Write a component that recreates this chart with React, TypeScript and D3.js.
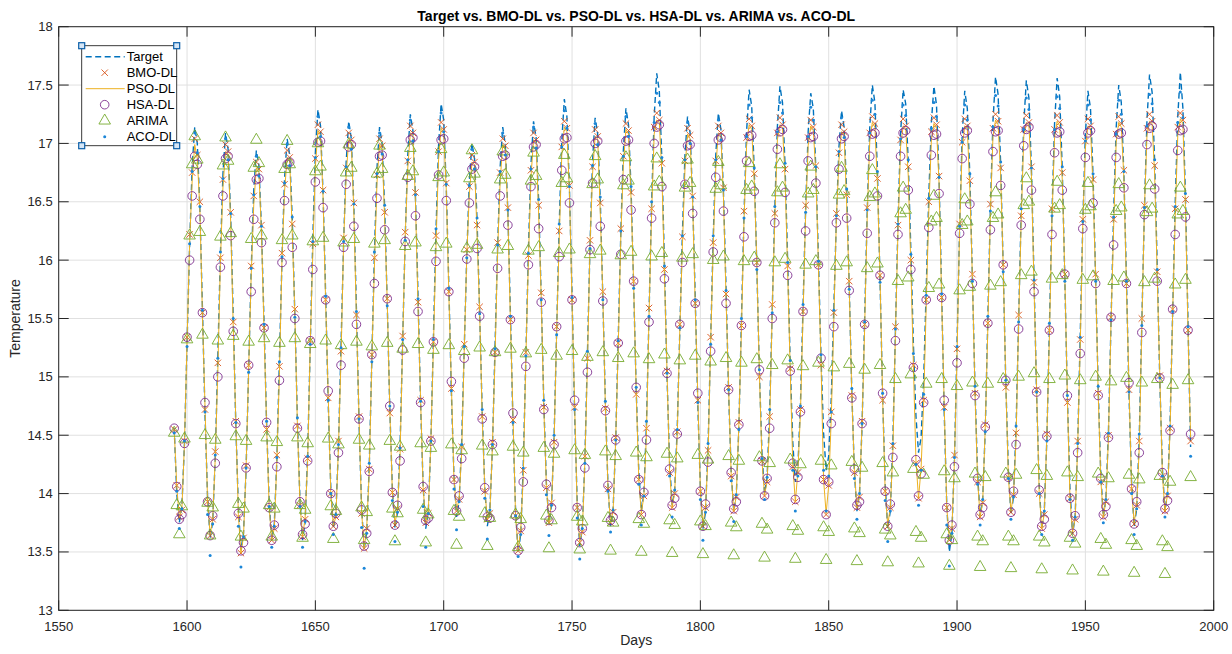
import * as d3 from "d3";
import { useEffect, useRef } from "react";

// one value per day, first day is 1595
const firstDay = 1595;

const target = [
  14.56, 14.00, 13.75,
  13.89, 14.43, 15.28, 16.12, 16.80, 17.14, 17.00, 16.44, 15.59, 14.68, 13.97, 13.62,
  13.76, 14.31, 15.18, 16.05, 16.74, 17.09, 16.95, 16.38, 15.52, 14.59, 13.88, 13.52,
  13.66, 14.20, 15.06, 15.91, 16.60, 16.94, 16.81, 16.27, 15.47, 14.60, 13.93, 13.60,
  13.74, 14.29, 15.15, 16.01, 16.70, 17.04, 16.90, 16.35, 15.53, 14.63, 13.94, 13.60,
  13.75, 14.34, 15.26, 16.18, 16.92, 17.29, 17.15, 16.57, 15.71, 14.78, 14.06, 13.70,
  13.84, 14.40, 15.27, 16.14, 16.84, 17.19, 17.04, 16.46, 15.58, 14.62, 13.89, 13.52,
  13.67, 14.24, 15.15, 16.05, 16.78, 17.14, 17.00, 16.45, 15.63, 14.73, 14.04, 13.70,
  13.84, 14.41, 15.30, 16.19, 16.90, 17.25, 17.11, 16.54, 15.69, 14.77, 14.06, 13.70,
  13.85, 14.43, 15.34, 16.25, 16.98, 17.34, 17.20, 16.63, 15.78, 14.86, 14.15, 13.80,
  13.93, 14.44, 15.24, 16.04, 16.68, 17.00, 16.87, 16.34, 15.56, 14.70, 14.05, 13.72,
  13.86, 14.40, 15.26, 16.11, 16.80, 17.14, 16.99, 16.41, 15.54, 14.59, 13.86, 13.50,
  13.65, 14.24, 15.16, 16.08, 16.82, 17.19, 17.05, 16.50, 15.68, 14.78, 14.09, 13.75,
  13.90, 14.48, 15.38, 16.29, 17.02, 17.38, 17.23, 16.61, 15.70, 14.70, 13.93, 13.55,
  13.70, 14.28, 15.20, 16.12, 16.85, 17.22, 17.08, 16.52, 15.68, 14.77, 14.07, 13.72,
  13.86, 14.44, 15.33, 16.23, 16.94, 17.30, 17.16, 16.61, 15.78, 14.89, 14.20, 13.85,
  14.00, 14.60, 15.54, 16.48, 17.23, 17.60, 17.45, 16.86, 15.97, 15.01, 14.27, 13.90,
  14.03, 14.57, 15.40, 16.23, 16.90, 17.23, 17.09, 16.52, 15.68, 14.76, 14.05, 13.70,
  13.84, 14.41, 15.30, 16.19, 16.90, 17.26, 17.12, 16.58, 15.76, 14.87, 14.19, 13.85,
  13.99, 14.57, 15.48, 16.38, 17.10, 17.46, 17.32, 16.77, 15.94, 15.04, 14.35, 14.00,
  14.14, 14.70, 15.57, 16.44, 17.14, 17.49, 17.35, 16.81, 16.00, 15.12, 14.44, 14.10,
  14.23, 14.77, 15.60, 16.43, 17.10, 17.43, 17.30, 16.78, 16.01, 15.17, 14.52, 14.20,
  14.32, 14.82, 15.59, 16.36, 16.97, 17.28, 17.14, 16.59, 15.77, 14.88, 14.19, 13.85,
  14.00, 14.58, 15.49, 16.41, 17.14, 17.50, 17.35, 16.74, 15.83, 14.84, 14.08, 13.70,
  13.85, 14.45, 15.39, 16.33, 17.08, 17.46, 17.34, 16.84, 16.09, 15.28, 14.66, 14.35,
  14.48, 14.98, 15.76, 16.55, 17.18, 17.49, 17.33, 16.69, 15.73, 14.70, 13.90, 13.50,
  13.66, 14.29, 15.28, 16.27, 17.06, 17.45, 17.30, 16.72, 15.84, 14.90, 14.17, 13.80,
  13.95, 14.55, 15.50, 16.44, 17.19, 17.57, 17.42, 16.82, 15.92, 14.95, 14.20, 13.82,
  13.97, 14.56, 15.49, 16.42, 17.17, 17.54, 17.39, 16.77, 15.85, 14.85, 14.08, 13.70,
  13.85, 14.47, 15.44, 16.40, 17.17, 17.56, 17.40, 16.78, 15.84, 14.82, 14.04, 13.65,
  13.80, 14.41, 15.36, 16.31, 17.07, 17.45, 17.30, 16.72, 15.84, 14.90, 14.17, 13.80,
  13.95, 14.54, 15.47, 16.39, 17.13, 17.50, 17.35, 16.74, 15.84, 14.85, 14.10, 13.72,
  13.87, 14.49, 15.46, 16.43, 17.20, 17.59, 17.44, 16.84, 15.94, 14.97, 14.22, 13.85,
  14.00, 14.60, 15.54, 16.48, 17.23, 17.61, 17.30, 16.55, 15.45, 14.40
];

const bmo = [
  14.55, 14.07, 13.80,
  13.86, 14.45, 15.34, 16.22, 16.75, 17.04, 16.90, 16.50, 15.55, 14.72, 13.93, 13.64,
  13.78, 14.36, 15.12, 16.02, 16.69, 16.99, 16.93, 16.41, 15.47, 14.62, 13.80, 13.49,
  13.62, 14.24, 15.10, 15.95, 16.55, 16.84, 16.78, 16.30, 15.42, 14.55, 13.88, 13.60,
  13.70, 14.33, 15.09, 16.06, 16.65, 16.94, 16.88, 16.31, 15.58, 14.58, 13.90, 13.63,
  13.78, 14.30, 15.31, 16.14, 16.87, 17.16, 17.10, 16.60, 15.66, 14.82, 14.00, 13.72,
  13.80, 14.45, 15.22, 16.19, 16.79, 17.09, 17.03, 16.49, 15.53, 14.66, 13.83, 13.53,
  13.70, 14.21, 15.19, 16.02, 16.73, 17.04, 16.98, 16.41, 15.67, 14.69, 14.01, 13.73,
  13.87, 14.38, 15.35, 16.24, 16.85, 17.15, 17.09, 16.58, 15.64, 14.80, 14.03, 13.75,
  13.83, 14.47, 15.30, 16.21, 16.93, 17.18, 17.12, 16.66, 15.73, 14.90, 14.12, 13.85,
  13.95, 14.40, 15.28, 16.09, 16.63, 16.90, 16.84, 16.30, 15.60, 14.66, 14.02, 13.78,
  13.83, 14.44, 15.21, 16.15, 16.75, 17.04, 16.98, 16.45, 15.49, 14.63, 13.81, 13.51,
  13.68, 14.20, 15.21, 16.04, 16.77, 17.09, 17.03, 16.47, 15.72, 14.74, 14.05, 13.75,
  13.92, 14.44, 15.43, 16.25, 16.97, 17.19, 17.13, 16.64, 15.66, 14.74, 13.88, 13.58,
  13.67, 14.32, 15.16, 16.17, 16.80, 17.12, 17.06, 16.49, 15.73, 14.73, 14.04, 13.75,
  13.84, 14.48, 15.29, 16.27, 16.89, 17.17, 17.11, 16.58, 15.82, 14.85, 14.12, 13.82,
  13.98, 14.56, 15.59, 16.44, 17.14, 17.26, 17.20, 16.83, 15.92, 15.05, 14.18, 13.88,
  14.00, 14.53, 15.45, 16.20, 16.85, 17.13, 17.07, 16.55, 15.63, 14.80, 14.02, 13.72,
  13.88, 14.37, 15.34, 16.15, 16.85, 17.15, 17.09, 16.62, 15.71, 14.91, 14.15, 13.85,
  13.97, 14.61, 15.44, 16.42, 17.05, 17.21, 17.15, 16.74, 15.98, 15.00, 14.28, 13.98,
  14.10, 14.66, 15.62, 16.40, 17.09, 17.22, 17.16, 16.78, 15.95, 15.07, 14.23, 13.93,
  14.18, 14.72, 15.56, 16.47, 17.05, 17.20, 17.14, 16.81, 15.96, 15.10, 14.12, 13.82,
  14.07, 14.70, 15.55, 16.40, 16.92, 17.16, 17.10, 16.56, 15.82, 14.84, 14.18, 13.88,
  13.97, 14.62, 15.45, 16.45, 17.09, 17.23, 17.17, 16.70, 15.87, 14.80, 14.02, 13.72,
  13.88, 14.41, 15.43, 16.30, 17.03, 17.21, 17.15, 16.80, 16.00, 15.10, 14.26, 13.96,
  14.21, 14.80, 15.66, 16.50, 17.10, 17.22, 17.16, 16.72, 15.68, 14.74, 13.88, 13.60,
  13.70, 14.33, 15.24, 16.31, 17.01, 17.21, 17.15, 16.68, 15.88, 14.86, 14.10, 13.80,
  13.92, 14.59, 15.46, 16.48, 17.13, 17.25, 17.19, 16.79, 15.96, 14.91, 14.14, 13.84,
  13.99, 14.52, 15.53, 16.38, 17.12, 17.24, 17.18, 16.80, 15.81, 14.89, 14.00, 13.70,
  13.82, 14.51, 15.40, 16.44, 17.12, 17.24, 17.18, 16.75, 15.88, 14.78, 13.96, 13.66,
  13.78, 14.45, 15.32, 16.35, 17.02, 17.21, 17.15, 16.69, 15.88, 14.86, 14.10, 13.80,
  13.93, 14.50, 15.51, 16.35, 17.08, 17.23, 17.17, 16.77, 15.80, 14.89, 14.04, 13.74,
  13.90, 14.45, 15.50, 16.47, 17.13, 17.25, 17.19, 16.81, 15.90, 15.01, 14.15, 13.85,
  13.98, 14.56, 15.58, 16.44, 17.14, 17.26, 17.20, 16.52, 15.40, 14.45
];

const pso = [
  14.55, 14.06, 13.79,
  13.87, 14.43, 15.30, 16.14, 16.68, 16.99, 16.87, 16.44, 15.53, 14.75, 13.93, 13.65,
  13.78, 14.31, 15.06, 15.98, 16.63, 16.93, 16.91, 16.33, 15.43, 14.62, 13.82, 13.49,
  13.63, 14.22, 15.06, 15.87, 16.48, 16.79, 16.75, 16.24, 15.40, 14.58, 13.88, 13.61,
  13.70, 14.28, 15.03, 16.02, 16.59, 16.88, 16.86, 16.23, 15.54, 14.58, 13.92, 13.63,
  13.79, 14.28, 15.27, 16.06, 16.80, 17.11, 17.07, 16.54, 15.64, 14.85, 14.00, 13.73,
  13.80, 14.40, 15.16, 16.15, 16.73, 17.03, 17.01, 16.41, 15.49, 14.66, 13.85, 13.53,
  13.71, 14.19, 15.15, 15.94, 16.66, 16.99, 16.95, 16.35, 15.65, 14.72, 14.01, 13.74,
  13.87, 14.33, 15.29, 16.20, 16.79, 17.09, 17.07, 16.50, 15.60, 14.80, 14.05, 13.75,
  13.84, 14.45, 15.26, 16.13, 16.86, 17.13, 17.09, 16.60, 15.71, 14.93, 14.12, 13.86,
  13.95, 14.35, 15.22, 16.05, 16.57, 16.84, 16.82, 16.22, 15.56, 14.66, 14.04, 13.78,
  13.84, 14.42, 15.17, 16.07, 16.68, 16.99, 16.95, 16.39, 15.47, 14.66, 13.81, 13.52,
  13.68, 14.15, 15.15, 16.00, 16.71, 17.03, 17.01, 16.39, 15.68, 14.74, 14.07, 13.75,
  13.93, 14.42, 15.39, 16.17, 16.90, 17.14, 17.10, 16.58, 15.64, 14.77, 13.88, 13.59,
  13.67, 14.27, 15.10, 16.13, 16.74, 17.06, 17.04, 16.41, 15.69, 14.73, 14.06, 13.75,
  13.85, 14.46, 15.25, 16.19, 16.82, 17.12, 17.08, 16.52, 15.80, 14.88, 14.12, 13.83,
  13.98, 14.51, 15.53, 16.40, 17.08, 17.20, 17.18, 16.75, 15.88, 15.05, 14.20, 13.88,
  14.01, 14.51, 15.41, 16.12, 16.78, 17.08, 17.04, 16.49, 15.61, 14.83, 14.02, 13.73,
  13.88, 14.32, 15.28, 16.11, 16.79, 17.09, 17.07, 16.54, 15.67, 14.91, 14.17, 13.85,
  13.98, 14.59, 15.40, 16.34, 16.98, 17.16, 17.12, 16.68, 15.96, 15.03, 14.28, 13.99,
  14.10, 14.61, 15.56, 16.36, 17.03, 17.16, 17.14, 16.70, 15.91, 15.07, 14.25, 13.93,
  14.19, 14.70, 15.52, 16.39, 16.98, 17.15, 17.11, 16.75, 15.94, 15.13, 14.12, 13.83,
  14.07, 14.65, 15.49, 16.36, 16.86, 17.10, 17.08, 16.48, 15.78, 14.84, 14.20, 13.88,
  13.98, 14.60, 15.41, 16.37, 17.02, 17.18, 17.14, 16.64, 15.85, 14.83, 14.02, 13.73,
  13.88, 14.36, 15.37, 16.26, 16.97, 17.15, 17.13, 16.72, 15.96, 15.10, 14.28, 13.96,
  14.22, 14.78, 15.62, 16.42, 17.03, 17.17, 17.13, 16.66, 15.66, 14.77, 13.88, 13.61,
  13.70, 14.28, 15.18, 16.27, 16.95, 17.15, 17.13, 16.60, 15.84, 14.86, 14.12, 13.80,
  13.93, 14.57, 15.42, 16.40, 17.06, 17.20, 17.16, 16.73, 15.94, 14.94, 14.14, 13.85,
  13.99, 14.47, 15.47, 16.34, 17.06, 17.18, 17.16, 16.72, 15.77, 14.89, 14.02, 13.70,
  13.83, 14.49, 15.36, 16.36, 17.05, 17.19, 17.15, 16.69, 15.86, 14.81, 13.96, 13.67,
  13.78, 14.40, 15.26, 16.31, 16.96, 17.15, 17.13, 16.61, 15.84, 14.86, 14.12, 13.80,
  13.94, 14.48, 15.47, 16.27, 17.01, 17.18, 17.14, 16.71, 15.78, 14.92, 14.04, 13.75,
  13.90, 14.40, 15.44, 16.43, 17.07, 17.19, 17.17, 16.73, 15.86, 15.01, 14.17, 13.85,
  13.99, 14.54, 15.54, 16.36, 17.07, 17.21, 17.17, 16.46, 15.38, 14.48
];

const hsa = [
  14.56, 14.06, 13.78,
  13.82, 14.43, 15.34, 16.00, 16.55, 16.89, 16.82, 16.35, 15.55, 14.78, 13.93, 13.64,
  13.81, 14.26, 15.00, 15.94, 16.55, 16.87, 16.89, 16.21, 15.39, 14.60, 13.83, 13.51,
  13.58, 14.22, 15.10, 15.73, 16.35, 16.69, 16.70, 16.15, 15.42, 14.61, 13.88, 13.60,
  13.73, 14.23, 14.97, 15.98, 16.51, 16.82, 16.84, 16.11, 15.50, 14.56, 13.93, 13.65,
  13.74, 14.28, 15.31, 15.92, 16.67, 17.01, 17.02, 16.45, 15.66, 14.88, 14.00, 13.72,
  13.83, 14.35, 15.10, 16.11, 16.65, 16.97, 16.99, 16.29, 15.45, 14.64, 13.86, 13.55,
  13.66, 14.19, 15.19, 15.80, 16.53, 16.89, 16.90, 16.26, 15.67, 14.75, 14.01, 13.73,
  13.90, 14.28, 15.23, 16.16, 16.71, 17.03, 17.05, 16.38, 15.56, 14.78, 14.06, 13.77,
  13.79, 14.45, 15.30, 15.99, 16.73, 17.03, 17.04, 16.51, 15.73, 14.96, 14.12, 13.85,
  13.98, 14.30, 15.16, 16.01, 16.49, 16.78, 16.80, 16.10, 15.52, 14.64, 14.05, 13.80,
  13.79, 14.42, 15.21, 15.93, 16.55, 16.89, 16.90, 16.30, 15.49, 14.69, 13.81, 13.51,
  13.71, 14.10, 15.09, 15.96, 16.63, 16.97, 16.99, 16.27, 15.64, 14.72, 14.08, 13.77,
  13.88, 14.42, 15.43, 16.03, 16.77, 17.04, 17.05, 16.49, 15.66, 14.80, 13.88, 13.58,
  13.70, 14.22, 15.04, 16.09, 16.66, 17.00, 17.02, 16.29, 15.65, 14.71, 14.07, 13.77,
  13.80, 14.46, 15.29, 16.05, 16.69, 17.02, 17.03, 16.43, 15.82, 14.91, 14.12, 13.82,
  14.01, 14.46, 15.47, 16.36, 17.00, 17.14, 17.16, 16.63, 15.84, 15.03, 14.21, 13.90,
  13.96, 14.51, 15.45, 15.98, 16.65, 16.98, 16.99, 16.40, 15.63, 14.86, 14.02, 13.72,
  13.91, 14.27, 15.22, 16.07, 16.71, 17.03, 17.05, 16.42, 15.63, 14.89, 14.18, 13.87,
  13.93, 14.59, 15.44, 16.20, 16.85, 17.06, 17.07, 16.59, 15.98, 15.06, 14.28, 13.98,
  14.13, 14.56, 15.50, 16.32, 16.95, 17.10, 17.12, 16.58, 15.87, 15.05, 14.26, 13.95,
  14.14, 14.70, 15.56, 16.25, 16.85, 17.05, 17.06, 16.66, 15.96, 15.16, 14.12, 13.82,
  14.10, 14.60, 15.43, 16.32, 16.78, 17.04, 17.06, 16.36, 15.74, 14.82, 14.21, 13.90,
  13.93, 14.60, 15.45, 16.23, 16.89, 17.08, 17.09, 16.55, 15.87, 14.86, 14.02, 13.72,
  13.91, 14.31, 15.31, 16.22, 16.89, 17.09, 17.11, 16.60, 15.92, 15.08, 14.29, 13.98,
  14.17, 14.78, 15.66, 16.28, 16.90, 17.07, 17.08, 16.57, 15.68, 14.80, 13.88, 13.60,
  13.73, 14.23, 15.12, 16.23, 16.87, 17.09, 17.11, 16.48, 15.80, 14.84, 14.13, 13.82,
  13.88, 14.57, 15.46, 16.26, 16.93, 17.10, 17.11, 16.64, 15.96, 14.97, 14.14, 13.84,
  14.02, 14.42, 15.41, 16.30, 16.98, 17.12, 17.14, 16.60, 15.73, 14.87, 14.03, 13.72,
  13.78, 14.49, 15.40, 16.22, 16.92, 17.09, 17.10, 16.60, 15.88, 14.84, 13.96, 13.66,
  13.81, 14.35, 15.20, 16.27, 16.88, 17.09, 17.11, 16.49, 15.80, 14.84, 14.13, 13.82,
  13.89, 14.48, 15.51, 16.13, 16.88, 17.08, 17.09, 16.62, 15.80, 14.95, 14.04, 13.74,
  13.93, 14.35, 15.38, 16.39, 16.99, 17.13, 17.15, 16.61, 15.82, 14.99, 14.18, 13.87,
  13.94, 14.54, 15.58, 16.22, 16.94, 17.11, 17.12, 16.37, 15.40, 14.51
];

const arima = [
  14.52, 13.90, 13.65,
  13.89, 14.47, 15.32, 16.21, 16.82, 17.06, 16.86, 16.24, 15.36, 14.50, 13.92, 13.64,
  13.88, 14.46, 15.31, 16.20, 16.81, 17.05, 16.85, 16.23, 15.35, 14.49, 13.91, 13.63,
  13.87, 14.45, 15.30, 16.18, 16.79, 17.03, 16.83, 16.21, 15.33, 14.48, 13.90, 13.63,
  13.87, 14.44, 15.29, 16.17, 16.78, 17.02, 16.82, 16.21, 15.33, 14.48, 13.90, 13.62,
  13.86, 14.43, 15.28, 16.16, 16.76, 17.00, 16.80, 16.19, 15.31, 14.47, 13.89, 13.61,
  13.85, 14.42, 15.27, 16.15, 16.75, 16.99, 16.79, 16.18, 15.30, 14.46, 13.88, 13.60,
  13.84, 14.41, 15.26, 16.14, 16.74, 16.98, 16.78, 16.17, 15.29, 14.45, 13.87, 13.59,
  13.83, 14.40, 15.24, 16.12, 16.72, 16.96, 16.76, 16.15, 15.28, 14.43, 13.86, 13.58,
  13.82, 14.39, 15.23, 16.11, 16.71, 16.95, 16.75, 16.14, 15.27, 14.42, 13.85, 13.56,
  13.80, 14.37, 15.22, 16.10, 16.70, 16.94, 16.74, 16.13, 15.25, 14.41, 13.83, 13.55,
  13.79, 14.36, 15.21, 16.09, 16.69, 16.93, 16.73, 16.12, 15.24, 14.40, 13.82, 13.54,
  13.78, 14.35, 15.20, 16.08, 16.68, 16.92, 16.72, 16.11, 15.23, 14.39, 13.81, 13.53,
  13.77, 14.34, 15.18, 16.06, 16.66, 16.90, 16.70, 16.09, 15.22, 14.37, 13.80, 13.52,
  13.76, 14.33, 15.17, 16.05, 16.65, 16.89, 16.69, 16.08, 15.21, 14.36, 13.79, 13.51,
  13.75, 14.32, 15.16, 16.04, 16.64, 16.88, 16.68, 16.07, 15.20, 14.35, 13.78, 13.50,
  13.74, 14.31, 15.15, 16.03, 16.63, 16.87, 16.67, 16.06, 15.19, 14.34, 13.77, 13.49,
  13.73, 14.30, 15.14, 16.02, 16.62, 16.86, 16.66, 16.05, 15.18, 14.33, 13.76, 13.48,
  13.72, 14.29, 15.13, 16.00, 16.61, 16.84, 16.64, 16.03, 15.16, 14.32, 13.75, 13.47,
  13.71, 14.28, 15.12, 15.99, 16.60, 16.83, 16.63, 16.02, 15.15, 14.31, 13.74, 13.45,
  13.69, 14.26, 15.10, 15.98, 16.58, 16.82, 16.62, 16.01, 15.14, 14.29, 13.72, 13.44,
  13.68, 14.25, 15.09, 15.96, 16.57, 16.80, 16.60, 15.99, 15.12, 14.28, 13.71, 13.43,
  13.67, 14.24, 15.08, 15.95, 16.56, 16.79, 16.59, 15.98, 15.11, 14.27, 13.70, 13.42,
  13.66, 14.22, 15.06, 15.93, 16.54, 16.77, 16.57, 15.97, 15.10, 14.26, 13.69, 13.41,
  13.64, 14.18, 14.98, 15.82, 16.40, 16.62, 16.43, 15.85, 15.02, 14.21, 13.67, 13.40,
  13.62, 14.16, 14.94, 15.76, 16.33, 16.55, 16.36, 15.79, 14.98, 14.19, 13.65, 13.38,
  13.60, 14.13, 14.92, 15.74, 16.30, 16.52, 16.33, 15.77, 14.95, 14.17, 13.63, 13.37,
  13.59, 14.14, 14.94, 15.78, 16.36, 16.58, 16.39, 15.81, 14.98, 14.17, 13.63, 13.36,
  13.59, 14.16, 15.00, 15.87, 16.47, 16.70, 16.50, 15.90, 15.03, 14.20, 13.63, 13.35,
  13.58, 14.15, 14.98, 15.84, 16.44, 16.67, 16.47, 15.87, 15.01, 14.18, 13.62, 13.34,
  13.57, 14.14, 14.97, 15.83, 16.43, 16.66, 16.46, 15.86, 15.00, 14.17, 13.61, 13.33,
  13.56, 14.13, 14.96, 15.82, 16.42, 16.65, 16.45, 15.85, 14.99, 14.16, 13.60, 13.32,
  13.55, 14.12, 14.95, 15.81, 16.41, 16.64, 16.44, 15.84, 14.98, 14.15, 13.59, 13.31,
  13.54, 14.10, 14.93, 15.79, 16.39, 16.62, 16.42, 15.83, 14.97, 14.14
];

const aco = [
  14.52, 14.02, 13.70,
  13.87, 14.45, 15.26, 16.14, 16.76, 17.09, 16.92, 16.46, 15.57, 14.70, 13.82, 13.47,
  13.74, 14.33, 15.16, 16.07, 16.70, 17.04, 16.86, 16.40, 15.50, 14.61, 13.72, 13.37,
  13.63, 14.22, 15.04, 15.93, 16.56, 16.89, 16.72, 16.29, 15.45, 14.62, 13.89, 13.54,
  13.72, 14.31, 15.13, 16.03, 16.66, 16.99, 16.81, 16.37, 15.51, 14.65, 13.89, 13.54,
  13.76, 14.32, 15.28, 16.16, 16.88, 17.23, 17.06, 16.59, 15.69, 14.80, 14.00, 13.65,
  13.82, 14.42, 15.25, 16.16, 16.80, 17.14, 16.95, 16.48, 15.56, 14.64, 13.71, 13.36,
  13.66, 14.26, 15.13, 16.07, 16.74, 17.09, 16.91, 16.47, 15.61, 14.75, 13.94, 13.59,
  13.84, 14.39, 15.32, 16.17, 16.86, 17.20, 17.02, 16.56, 15.67, 14.79, 13.89, 13.54,
  13.83, 14.45, 15.32, 16.27, 16.93, 17.26, 17.10, 16.65, 15.76, 14.88, 14.04, 13.69,
  13.93, 14.42, 15.26, 16.02, 16.64, 16.95, 16.78, 16.36, 15.54, 14.72, 13.96, 13.61,
  13.86, 14.42, 15.24, 16.13, 16.76, 17.09, 16.90, 16.43, 15.52, 14.61, 13.81, 13.46,
  13.65, 14.22, 15.18, 16.06, 16.78, 17.14, 16.96, 16.52, 15.66, 14.80, 13.99, 13.64,
  13.90, 14.50, 15.36, 16.31, 16.97, 17.28, 17.13, 16.63, 15.68, 14.72, 13.79, 13.44,
  13.70, 14.26, 15.22, 16.10, 16.81, 17.17, 16.99, 16.54, 15.66, 14.79, 14.02, 13.67,
  13.86, 14.46, 15.31, 16.25, 16.89, 17.23, 17.06, 16.63, 15.76, 14.91, 14.08, 13.73,
  13.98, 14.62, 15.52, 16.50, 17.18, 17.43, 17.35, 16.88, 15.95, 15.03, 14.15, 13.80,
  14.03, 14.55, 15.42, 16.21, 16.86, 17.18, 17.00, 16.54, 15.66, 14.78, 13.95, 13.60,
  13.84, 14.43, 15.28, 16.21, 16.86, 17.20, 17.03, 16.60, 15.74, 14.89, 14.11, 13.76,
  13.99, 14.55, 15.50, 16.36, 17.06, 17.33, 17.22, 16.79, 15.92, 15.06, 14.30, 13.95,
  14.14, 14.72, 15.55, 16.46, 17.10, 17.35, 17.26, 16.83, 15.98, 15.14, 14.20, 13.85,
  14.15, 14.75, 15.62, 16.41, 17.06, 17.31, 17.20, 16.80, 15.99, 15.19, 14.20, 13.85,
  14.15, 14.70, 15.57, 16.38, 16.93, 17.22, 17.05, 16.61, 15.75, 14.90, 14.13, 13.78,
  14.00, 14.60, 15.47, 16.43, 17.09, 17.37, 17.25, 16.76, 15.81, 14.86, 13.94, 13.59,
  13.85, 14.43, 15.41, 16.31, 17.04, 17.33, 17.24, 16.86, 16.05, 15.20, 14.25, 13.90,
  14.20, 14.85, 15.70, 16.53, 17.13, 17.35, 17.23, 16.71, 15.71, 14.72, 13.73, 13.38,
  13.66, 14.31, 15.26, 16.29, 17.01, 17.33, 17.20, 16.74, 15.82, 14.92, 14.08, 13.73,
  13.95, 14.53, 15.52, 16.42, 17.14, 17.41, 17.32, 16.84, 15.90, 14.97, 14.13, 13.78,
  13.97, 14.58, 15.47, 16.44, 17.12, 17.39, 17.29, 16.79, 15.83, 14.87, 14.00, 13.65,
  13.85, 14.45, 15.46, 16.38, 17.12, 17.40, 17.30, 16.80, 15.82, 14.84, 13.95, 13.60,
  13.80, 14.43, 15.34, 16.33, 17.02, 17.33, 17.20, 16.74, 15.82, 14.92, 14.10, 13.75,
  13.95, 14.52, 15.49, 16.37, 17.08, 17.37, 17.25, 16.76, 15.82, 14.87, 14.00, 13.65,
  13.87, 14.51, 15.44, 16.45, 17.15, 17.42, 17.34, 16.86, 15.92, 14.99, 14.15, 13.80,
  14.00, 14.58, 15.56, 16.46, 17.18, 17.44, 17.22, 16.57, 15.43, 14.32
];

const xTicks = [1550, 1600, 1650, 1700, 1750, 1800, 1850, 1900, 1950, 2000];
const yTicks = [13, 13.5, 14, 14.5, 15, 15.5, 16, 16.5, 17, 17.5, 18];

const names = ["Target", "BMO-DL", "PSO-DL", "HSA-DL", "ARIMA", "ACO-DL"];
const colors = ["#0072BD", "#D95319", "#EDB120", "#7E2F8E", "#77AC30", "#1B86D8"];

const font = "'Liberation Sans', Arial, Helvetica, sans-serif";

const App = () => {
  const ref = useRef(null);
  useEffect(() => {
    renderChart(ref.current);
  }, []);
  return (
    <svg ref={ref} width={1232} height={654}
      style={{ position: "absolute", left: 0, top: 0, background: "#fff" }} />
  );
};

const toPoints = (vals) => vals.map((v, i) => ({ day: firstDay + i, v: v }));

// little x marker path, centred on cx, cy
const crossPath = (cx, cy, s) =>
  "M" + (cx - s) + "," + (cy - s) + "L" + (cx + s) + "," + (cy + s) +
  "M" + (cx - s) + "," + (cy + s) + "L" + (cx + s) + "," + (cy - s);

var renderChart = (node) => {
  const svg = d3.select(node);
  svg.selectAll("*").remove();

  var left = 58.7, right = 1213.7, top = 26.7, bottom = 610.3;
  var x = d3.scaleLinear().domain([1550, 2000]).range([left, right]);
  var y = d3.scaleLinear().domain([13, 18]).range([bottom, top]);

  svg.append("rect").attr("x", left).attr("y", top)
    .attr("width", right - left).attr("height", bottom - top).attr("fill", "#fff");

  // grid
  var grid = svg.append("g").attr("stroke", "#e0e0e0").attr("stroke-width", 1);
  xTicks.forEach(t => {
    grid.append("line").attr("x1", x(t)).attr("x2", x(t)).attr("y1", top).attr("y2", bottom);
  });
  yTicks.forEach(t => {
    grid.append("line").attr("x1", left).attr("x2", right).attr("y1", y(t)).attr("y2", y(t));
  });

  var plot = svg.append("g");
  var line = d3.line().x(d => x(d.day)).y(d => y(d.v));

  // Target
  plot.append("path").datum(toPoints(target))
    .attr("d", line).attr("fill", "none")
    .attr("stroke", colors[0]).attr("stroke-width", 1.4)
    .attr("stroke-dasharray", "6,3.5");

  // BMO-DL crosses
  plot.append("g").attr("stroke", colors[1]).attr("stroke-width", 0.9)
    .selectAll("path").data(toPoints(bmo)).enter().append("path")
    .attr("d", d => crossPath(x(d.day), y(d.v), 3.2));

  // PSO-DL line
  plot.append("path").datum(toPoints(pso))
    .attr("d", line).attr("fill", "none")
    .attr("stroke", colors[2]).attr("stroke-width", 1);

  // HSA-DL circles
  plot.append("g").attr("stroke", colors[3]).attr("stroke-width", 0.9).attr("fill", "none")
    .selectAll("circle").data(toPoints(hsa)).enter().append("circle")
    .attr("cx", d => x(d.day)).attr("cy", d => y(d.v)).attr("r", 4.3);

  // ARIMA triangles
  var tri = d3.symbol().type(d3.symbolTriangle).size(58);
  plot.append("g").attr("stroke", colors[4]).attr("stroke-width", 0.9).attr("fill", "none")
    .selectAll("path").data(toPoints(arima)).enter().append("path")
    .attr("d", tri)
    .attr("transform", d => "translate(" + x(d.day) + "," + y(d.v) + ")");

  // ACO-DL dots
  plot.append("g").attr("fill", colors[5])
    .selectAll("circle").data(toPoints(aco)).enter().append("circle")
    .attr("cx", d => x(d.day)).attr("cy", d => y(d.v)).attr("r", 1.5);

  // axes box + ticks (inward on all sides)
  var ax = svg.append("g").attr("stroke", "#262626").attr("stroke-width", 1);
  ax.append("rect").attr("x", left).attr("y", top)
    .attr("width", right - left).attr("height", bottom - top).attr("fill", "none");
  var tl = 10;
  xTicks.forEach(t => {
    ax.append("line").attr("x1", x(t)).attr("x2", x(t)).attr("y1", bottom).attr("y2", bottom - tl);
    ax.append("line").attr("x1", x(t)).attr("x2", x(t)).attr("y1", top).attr("y2", top + tl);
  });
  yTicks.forEach(t => {
    ax.append("line").attr("x1", left).attr("x2", left + tl).attr("y1", y(t)).attr("y2", y(t));
    ax.append("line").attr("x1", right).attr("x2", right - tl).attr("y1", y(t)).attr("y2", y(t));
  });

  var labels = svg.append("g").attr("font-family", font).attr("fill", "#262626").attr("font-size", 13);
  xTicks.forEach(t => {
    labels.append("text").attr("x", x(t)).attr("y", bottom + 21)
      .attr("text-anchor", "middle").text(t);
  });
  yTicks.forEach(t => {
    labels.append("text").attr("x", left - 6).attr("y", y(t) + 4.5)
      .attr("text-anchor", "end").text(t);
  });

  labels.append("text").attr("x", (left + right) / 2).attr("y", 645)
    .attr("text-anchor", "middle").attr("font-size", 14).text("Days");
  labels.append("text")
    .attr("transform", "translate(20," + (top + bottom) / 2 + ") rotate(-90)")
    .attr("text-anchor", "middle").attr("font-size", 14).text("Temperature");
  labels.append("text").attr("x", (left + right) / 2).attr("y", 21)
    .attr("text-anchor", "middle").attr("font-size", 14).attr("font-weight", "bold")
    .attr("fill", "#000")
    .text("Target vs. BMO-DL vs. PSO-DL vs. HSA-DL vs. ARIMA vs. ACO-DL");

  // legend
  var lx = 81.7, ly = 45.7, lw = 95, lh = 100;
  var leg = svg.append("g").attr("font-family", font).attr("font-size", 13);
  leg.append("rect").attr("x", lx).attr("y", ly).attr("width", lw).attr("height", lh)
    .attr("fill", "#fff").attr("stroke", "#262626").attr("stroke-width", 0.9);

  var rowY = d3.scaleLinear().domain([0, 5]).range([ly + 11, ly + 91]);
  var sx0 = lx + 4, sx1 = lx + 43, mx = lx + 23;
  names.forEach((n, i) => {
    var cy = rowY(i);
    if (i === 0) {
      leg.append("line").attr("x1", sx0).attr("x2", sx1).attr("y1", cy).attr("y2", cy)
        .attr("stroke", colors[0]).attr("stroke-width", 1.4).attr("stroke-dasharray", "6,3.5");
    } else if (i === 1) {
      leg.append("path").attr("stroke", colors[1]).attr("stroke-width", 0.9)
        .attr("d", crossPath(mx, cy, 3.2));
    } else if (i === 2) {
      leg.append("line").attr("x1", sx0).attr("x2", sx1).attr("y1", cy).attr("y2", cy)
        .attr("stroke", colors[2]).attr("stroke-width", 1);
    } else if (i === 3) {
      leg.append("circle").attr("cx", mx).attr("cy", cy).attr("r", 4.3)
        .attr("fill", "none").attr("stroke", colors[3]).attr("stroke-width", 0.9);
    } else if (i === 4) {
      leg.append("path").attr("d", tri).attr("transform", "translate(" + mx + "," + cy + ")")
        .attr("fill", "none").attr("stroke", colors[4]).attr("stroke-width", 0.9);
    } else {
      leg.append("circle").attr("cx", mx).attr("cy", cy).attr("r", 1.5).attr("fill", colors[5]);
    }
    leg.append("text").attr("x", lx + 45).attr("y", cy + 4.5).attr("fill", "#000").text(n);
  });

  // selection handles on legend corners
  [[lx, ly], [lx + lw, ly], [lx, ly + lh], [lx + lw, ly + lh]].forEach(c => {
    leg.append("rect").attr("x", c[0] - 3).attr("y", c[1] - 3).attr("width", 6).attr("height", 6)
      .attr("fill", "#d6e6f6").attr("stroke", "#0b5ea8").attr("stroke-width", 1.2);
  });
};

export default App;
